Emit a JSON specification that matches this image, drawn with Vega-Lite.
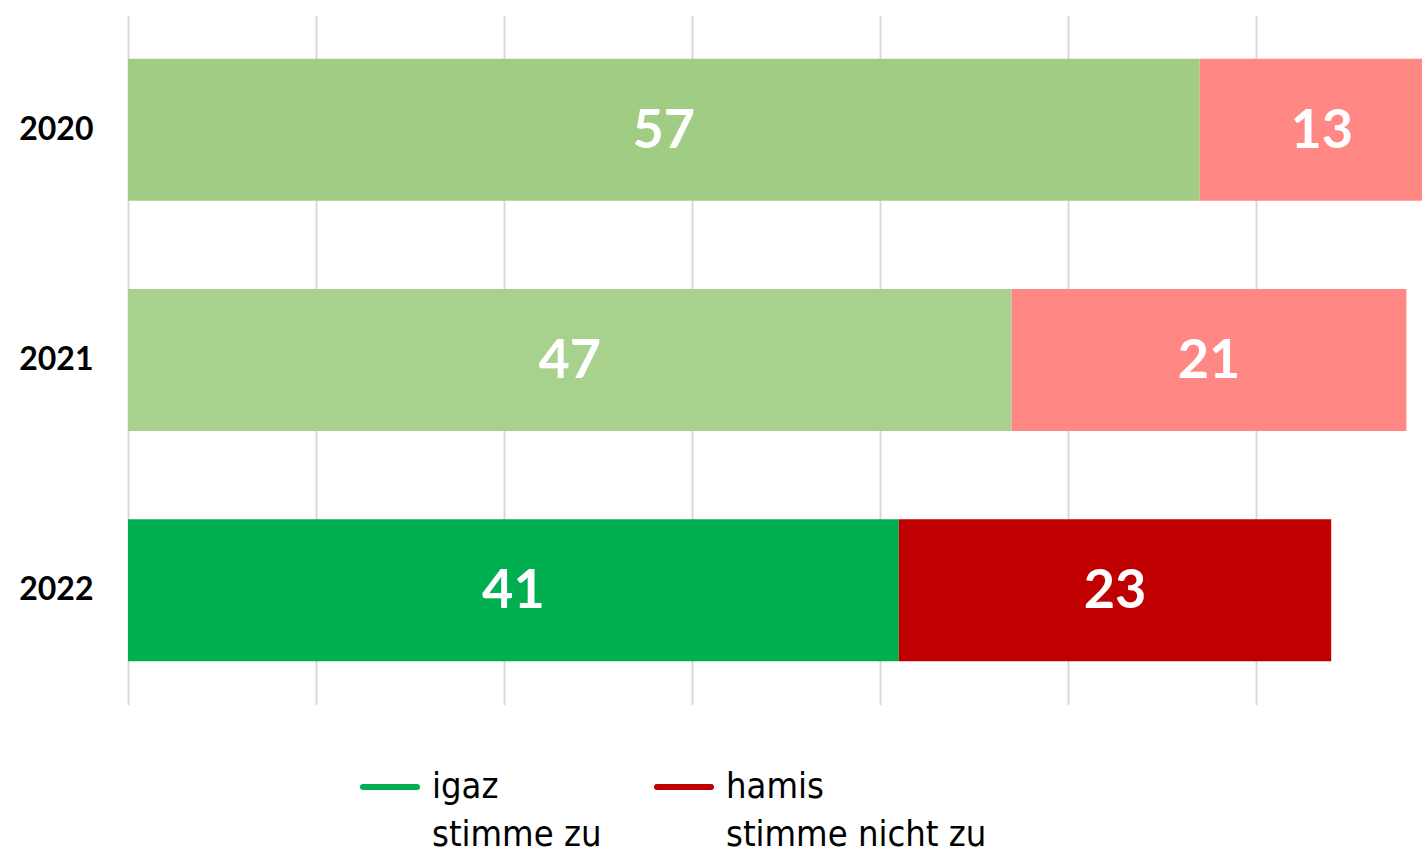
{
  "$schema": "https://vega.github.io/schema/vega-lite/v6.json",
  "width": 1294,
  "height": 690,
  "autosize": "none",
  "padding": {"left": 128, "top": 15, "right": 0, "bottom": 147},
  "background": "white",
  "config": {"view": {"stroke": null}},
  "data": {
    "values": [
      {"year": "2020", "grp": "igaz", "order": 1, "value": 57, "shade": "2020 igaz"},
      {"year": "2020", "grp": "hamis", "order": 2, "value": 13, "shade": "2020 hamis"},
      {"year": "2021", "grp": "igaz", "order": 1, "value": 47, "shade": "2021 igaz"},
      {"year": "2021", "grp": "hamis", "order": 2, "value": 21, "shade": "2021 hamis"},
      {"year": "2022", "grp": "igaz", "order": 1, "value": 41, "shade": "2022 igaz"},
      {"year": "2022", "grp": "hamis", "order": 2, "value": 23, "shade": "2022 hamis"}
    ]
  },
  "transform": [
    {"stack": "value", "groupby": ["year"], "sort": [{"field": "order", "order": "ascending"}], "as": ["v0", "v1"]},
    {"calculate": "(datum.v0 + datum.v1) / 2", "as": "mid"}
  ],
  "encoding": {
    "y": {
      "field": "year", "type": "nominal", "sort": ["2020", "2021", "2022"],
      "scale": {"paddingInner": 0.383, "paddingOuter": 0.19},
      "axis": {"title": null, "domain": false, "ticks": false, "labelFont": "Lato", "labelFontWeight": "bold", "labelFontSize": 32, "labelColor": "#000000", "labelPadding": 35}
    }
  },
  "layer": [
    {
      "mark": {"type": "bar", "clip": true},
      "encoding": {
        "x": {
          "field": "v0", "type": "quantitative",
          "scale": {"domain": [0, 68.83], "nice": false, "zero": true},
          "axis": {"title": null, "labels": false, "ticks": false, "domain": false, "grid": true, "gridColor": "#D9D9D9", "gridWidth": 2, "values": [0, 10, 20, 30, 40, 50, 60]}
        },
        "x2": {"field": "v1"},
        "fill": {
          "field": "shade", "type": "nominal", "legend": null,
          "scale": {
            "domain": ["2020 igaz", "2020 hamis", "2021 igaz", "2021 hamis", "2022 igaz", "2022 hamis"],
            "range": ["#A1CC83", "#FF8784", "#A9D18E", "#FF8784", "#00B050", "#C00000"]
          }
        }
      }
    },
    {
      "mark": {"type": "rule", "opacity": 0},
      "encoding": {
        "x": {"field": "v0", "type": "quantitative"},
        "stroke": {
          "field": "grp", "type": "nominal",
          "scale": {"domain": ["igaz", "hamis"], "range": ["#00B050", "#C00000"]},
          "legend": {
            "title": null, "orient": "none", "direction": "horizontal",
            "legendX": 232, "legendY": 742, "padding": 0,
            "symbolType": "stroke", "symbolSize": 2916, "symbolStrokeWidth": 6, "symbolOpacity": 1,
            "labelFont": "Liberation Sans Narrow, Arial Narrow, DejaVu Sans Condensed, sans-serif", "labelFontSize": 36, "labelColor": "#000000", "labelLimit": 400,
            "labelOffset": 12, "labelBaseline": "middle", "columnPadding": 43,
            "labelExpr": "datum.label == 'igaz' ? ['igaz', 'stimme zu'] : ['hamis', 'stimme nicht zu']",
            "encode": {
              "labels": {"update": {"lineHeight": {"value": 48}}},
              "symbols": {"update": {"strokeCap": {"value": "round"}}}
            }
          }
        }
      }
    },
    {
      "mark": {"type": "text", "color": "white", "font": "Lato", "fontWeight": "bold", "fontSize": 54, "baseline": "middle", "align": "center", "dy": 2},
      "encoding": {
        "x": {"field": "mid", "type": "quantitative"},
        "text": {"field": "value", "type": "quantitative"}
      }
    }
  ]
}
